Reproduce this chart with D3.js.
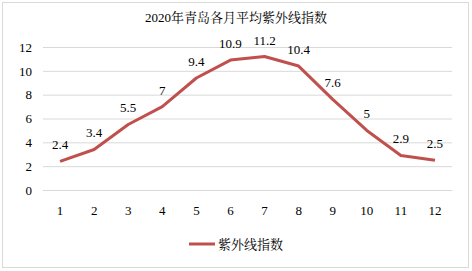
<!DOCTYPE html>
<html>
<head>
<meta charset="utf-8">
<script src="https://cdn.jsdelivr.net/npm/d3@7"></script>
<style>
  body { margin: 0; background: #fff; }
  text { font-family: "Liberation Serif", "Noto Serif CJK SC", "Noto Sans CJK SC", serif; fill: #000; }
</style>
</head>
<body>
<div id="chart"></div>
<script>
const months = ["1","2","3","4","5","6","7","8","9","10","11","12"];
const uvIndex = [2.4, 3.4, 5.5, 7, 9.4, 10.9, 11.2, 10.4, 7.6, 5, 2.9, 2.5];
const yTicks = [0, 2, 4, 6, 8, 10, 12];
const title = "2020年青岛各月平均紫外线指数";
const seriesName = "紫外线指数";

const width = 472;
const height = 271;
const color = "#C0504D";

const svg = d3.select("#chart")
  .append("svg")
  .attr("width", width)
  .attr("height", height);

// chart border
svg.append("rect")
  .attr("x", 2.5).attr("y", 2.5)
  .attr("width", width - 6).attr("height", height - 6)
  .attr("fill", "#fff")
  .attr("stroke", "#d9d9d9");

const xScale = d3.scaleBand()
  .domain(months)
  .range([43, 452]);

const yScale = d3.scaleLinear()
  .domain([0, 12])
  .range([190, 47]);

// gridlines
svg.append("g")
  .selectAll("line")
  .data(yTicks)
  .join("line")
  .attr("x1", 43).attr("x2", 452)
  .attr("y1", d => yScale(d) + 0.5)
  .attr("y2", d => yScale(d) + 0.5)
  .attr("stroke", "#d9d9d9");

// Y axis labels
svg.append("g")
  .attr("transform", "translate(32,0)")
  .call(d3.axisLeft(yScale).tickValues(yTicks).tickSize(0).tickPadding(0))
  .call(g => g.select(".domain").remove())
  .call(g => g.selectAll("text").attr("font-size", 13).attr("font-family", "Liberation Serif").attr("fill", "#000"));

// X axis labels
svg.append("g")
  .attr("transform", "translate(0,190)")
  .call(d3.axisBottom(xScale).tickSize(0).tickPadding(16))
  .call(g => g.select(".domain").remove())
  .call(g => g.selectAll("text").attr("font-size", 13).attr("font-family", "Liberation Serif").attr("fill", "#000"));

const cx = d => xScale(d) + xScale.bandwidth() / 2;

// line
const line = d3.line()
  .x((d, i) => cx(months[i]))
  .y(d => yScale(d));

svg.append("path")
  .datum(uvIndex)
  .attr("fill", "none")
  .attr("stroke", color)
  .attr("stroke-width", 3)
  .attr("stroke-linejoin", "round")
  .attr("d", line);

// data labels
svg.append("g")
  .selectAll("text")
  .data(uvIndex)
  .join("text")
  .attr("x", (d, i) => cx(months[i]))
  .attr("y", d => yScale(d) - 12)
  .attr("text-anchor", "middle")
  .attr("font-size", 13)
  .text(d => d);

// title
svg.append("text")
  .attr("x", 236)
  .attr("y", 22)
  .attr("text-anchor", "middle")
  .attr("font-size", 13)
  .text(title);

// legend
svg.append("line")
  .attr("x1", 189).attr("x2", 215)
  .attr("y1", 244).attr("y2", 244)
  .attr("stroke", color)
  .attr("stroke-width", 3);

svg.append("text")
  .attr("x", 218)
  .attr("y", 248.5)
  .attr("font-size", 13)
  .text(seriesName);
</script>
</body>
</html>
